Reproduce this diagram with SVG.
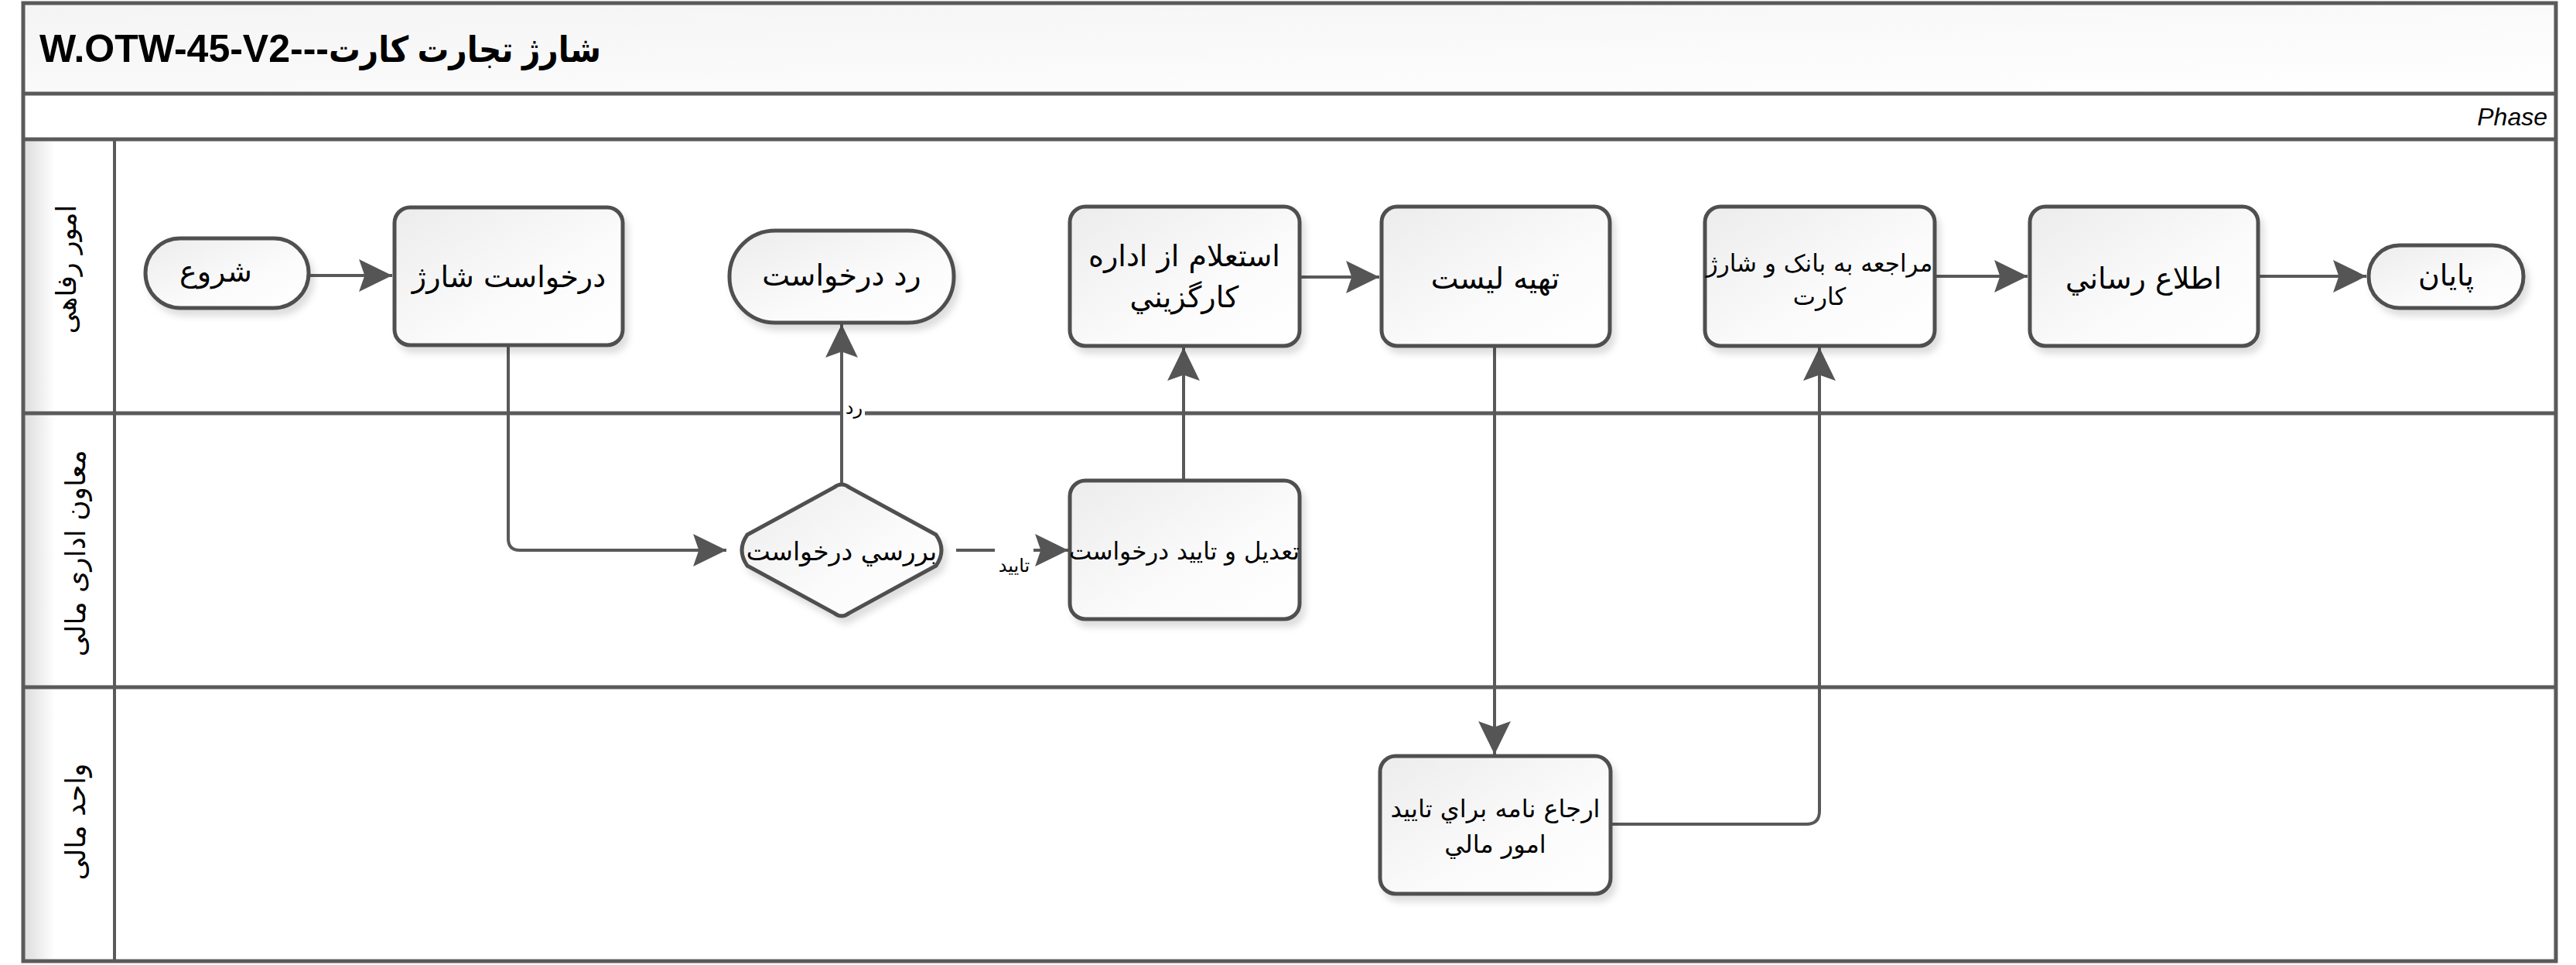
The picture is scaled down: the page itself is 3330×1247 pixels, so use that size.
<svg xmlns="http://www.w3.org/2000/svg" width="3330" height="1247" viewBox="0 0 3330 1247">
<defs>
<style>
.frame{fill:none;stroke:#5a5a5a;stroke-width:5}
.sep{stroke:#5a5a5a;stroke-width:5;fill:none}
.node{stroke:#505050;stroke-width:5;fill:url(#ng);filter:url(#sh)}
.conn{fill:none;stroke:#595959;stroke-width:4;stroke-linejoin:round}
.arr{marker-end:url(#ah)}
.t{font-family:"DejaVu Sans",sans-serif;font-size:38px;fill:#000;text-anchor:middle;dominant-baseline:central}
.s{font-size:31px}
.lbl{font-family:"DejaVu Sans",sans-serif;font-size:24px;fill:#000;text-anchor:middle;dominant-baseline:central}
.lane{font-family:"DejaVu Sans",sans-serif;font-size:36px;fill:#000;text-anchor:middle;dominant-baseline:central}
.title{font-family:"Liberation Sans","DejaVu Sans",sans-serif;font-weight:bold;fill:#000}
</style>
<linearGradient id="ng" x1="0" y1="0" x2="1" y2="1">
<stop offset="0" stop-color="#ececec"/>
<stop offset="0.6" stop-color="#fbfbfb"/>
<stop offset="1" stop-color="#ffffff"/>
</linearGradient>
<linearGradient id="hg" x1="0" y1="0" x2="1" y2="0">
<stop offset="0" stop-color="#dcdcdc"/>
<stop offset="0.35" stop-color="#ffffff"/>
<stop offset="1" stop-color="#ffffff"/>
</linearGradient>
<linearGradient id="tg" x1="0" y1="0" x2="1" y2="1">
<stop offset="0" stop-color="#f4f4f4"/>
<stop offset="1" stop-color="#ffffff"/>
</linearGradient>
<filter id="sh" x="-10%" y="-10%" width="125%" height="130%">
<feDropShadow dx="5" dy="8" stdDeviation="4" flood-color="#000" flood-opacity="0.13"/>
</filter>
<marker id="ah" markerUnits="userSpaceOnUse" markerWidth="44" markerHeight="44" viewBox="0 0 42 42" refX="41" refY="21" orient="auto">
<path d="M0,1 L41,21 L0,41 L7,21 Z" fill="#555555"/>
</marker>
</defs>

<g id="pool">
<rect x="30" y="4" width="3274" height="117" fill="url(#tg)"/>
<rect x="30" y="180" width="118" height="1062" fill="url(#hg)"/>
<rect class="frame" x="30" y="4" width="3274" height="1238"/>
<line class="sep" x1="30" y1="121" x2="3304" y2="121"/>
<line class="sep" x1="30" y1="180" x2="3304" y2="180"/>
<line class="sep" x1="30" y1="534" x2="3304" y2="534"/>
<line class="sep" x1="30" y1="888" x2="3304" y2="888"/>
<line class="sep" x1="148" y1="180" x2="148" y2="1242" style="stroke-width:4"/>
<text class="title" x="51" y="80" style="font-size:50px">W.OTW-45-V2---</text>
<text class="title" x="777" y="80" style="font-size:46px;text-anchor:end" textLength="352" lengthAdjust="spacingAndGlyphs">شارژ تجارت کارت</text>
<text x="3293" y="162" style="font-family:'Liberation Sans',sans-serif;font-style:italic;font-size:32px;fill:#000;text-anchor:end">Phase</text>
</g>

<g id="lane-labels">
<text class="lane" transform="translate(86,348) rotate(-90)" style="font-size:35px">امور رفاهی</text>
<text class="lane" transform="translate(97,715) rotate(-90)">معاون اداری مالی</text>
<text class="lane" transform="translate(97,1062) rotate(-90)">واحد مالی</text>
</g>

<g id="connectors">
<path class="conn arr" d="M399,356 H507"/>
<path class="conn arr" d="M657,446 V696 Q657,711 672,711 H939"/>
<path class="conn arr" d="M1088,624 V419"/>
<path class="conn arr" d="M1236,711 H1381"/>
<path class="conn arr" d="M1530,620 V449"/>
<path class="conn arr" d="M1680,358 H1783"/>
<path class="conn arr" d="M1932,447 V975"/>
<path class="conn arr" d="M2082,1065 H2335 Q2352,1065 2352,1048 V449"/>
<path class="conn arr" d="M2501,357 H2621"/>
<path class="conn arr" d="M2919,357 H3059"/>
<g id="label-rad">
<rect x="1090" y="510" width="28" height="38" fill="#fff"/>
<text class="lbl" x="1104" y="527">رد</text>
</g>
<g id="label-tayid">
<rect x="1286" y="702" width="50" height="46" fill="#fff"/>
<text class="lbl" x="1311" y="731">تایید</text>
</g>
</g>

<g id="n-start">
<rect class="node" x="188" y="308" width="211" height="90" rx="45" ry="45"/>
<text class="t" x="279" y="351">شروع</text>
</g>
<g id="n-request">
<rect class="node" x="510" y="268" width="295" height="178" rx="20" ry="20"/>
<text class="t" x="658" y="358">درخواست شارژ</text>
</g>
<g id="n-reject">
<rect class="node" x="943" y="298" width="290" height="119" rx="59" ry="59"/>
<text class="t" x="1088" y="356">رد درخواست</text>
</g>
<g id="n-inquiry">
<rect class="node" x="1383" y="267" width="297" height="180" rx="20" ry="20"/>
<text class="t" x="1531" y="331">استعلام از اداره</text>
<text class="t" x="1531" y="384">کارگزيني</text>
</g>
<g id="n-list">
<rect class="node" x="1786" y="267" width="295" height="180" rx="20" ry="20"/>
<text class="t" x="1933" y="360">تهیه لیست</text>
</g>
<g id="n-bank">
<rect class="node" x="2204" y="267" width="297" height="180" rx="20" ry="20"/>
<text class="t s" x="2352" y="340">مراجعه به بانک و شارژ</text>
<text class="t s" x="2352" y="383">کارت</text>
</g>
<g id="n-inform">
<rect class="node" x="2624" y="267" width="295" height="180" rx="20" ry="20"/>
<text class="t" x="2771" y="360">اطلاع رساني</text>
</g>
<g id="n-end">
<rect class="node" x="3062" y="317" width="200" height="81" rx="40" ry="40"/>
<text class="t" x="3162" y="356">پایان</text>
</g>
<g id="n-review">
<path class="node" d="M1078,630 Q1088,622 1098,630 L1210,691 Q1224,711 1210,731 L1098,792 Q1088,800 1078,792 L966,731 Q952,711 966,691 Z"/>
<text class="t s" x="1088" y="712" style="font-size:33px">بررسي درخواست</text>
</g>
<g id="n-adjust">
<rect class="node" x="1383" y="621" width="297" height="179" rx="20" ry="20"/>
<text class="t s" x="1531" y="712">تعدیل و تایید درخواست</text>
</g>
<g id="n-refer">
<rect class="node" x="1784" y="977" width="298" height="178" rx="20" ry="20"/>
<text class="t s" x="1933" y="1045" style="font-size:32px">ارجاع نامه براي تاييد</text>
<text class="t s" x="1933" y="1091" style="font-size:32px">امور مالي</text>
</g>
</svg>
